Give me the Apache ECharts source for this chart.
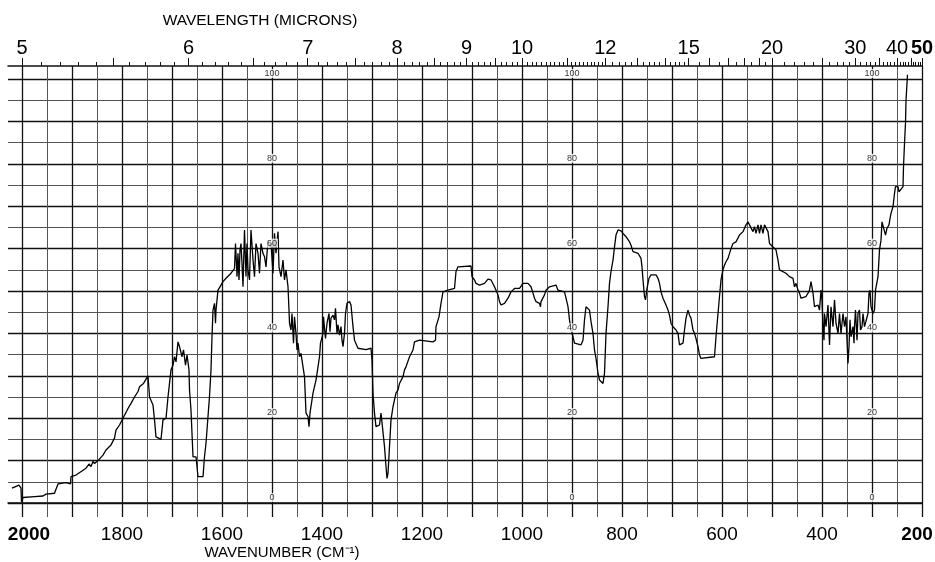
<!DOCTYPE html>
<html>
<head>
<meta charset="utf-8">
<script src="https://cdn.jsdelivr.net/npm/echarts@6/dist/echarts.min.js"></script>
<style>
  html, body { margin: 0; padding: 0; background: #fff; }
  #chart { width: 935px; height: 562px; }
</style>
</head>
<body>
<div id="chart"></div>
<script>
// spectrum (wavenumber in cm-1, % transmittance)
const wavenumber = [
  2020, 2006, 2002, 2001, 1998, 1975, 1958, 1952, 1935, 1928, 1912, 1903, 1902, 1892, 1872, 1866, 1862, 1858, 1855, 1848,
  1838, 1832, 1822, 1815, 1812, 1805, 1798, 1788, 1782, 1775, 1768, 1765, 1757, 1753, 1748, 1745,
  1738, 1735, 1732, 1722, 1718, 1712, 1708, 1705, 1702, 1698, 1695, 1692, 1688, 1685, 1682, 1680, 1677, 1673, 1670, 1666,
  1665, 1662, 1658, 1652, 1648, 1638, 1635, 1632, 1628, 1625, 1622, 1620, 1618, 1615, 1613, 1612, 1608, 1605, 1602, 1598,
  1592, 1582, 1575, 1573, 1570, 1568, 1566, 1564, 1562, 1560, 1558, 1555, 1552, 1550, 1548, 1545, 1542, 1538, 1535, 1532,
  1528, 1525, 1522, 1518, 1515, 1512, 1508, 1505, 1502, 1498, 1495, 1492, 1488, 1486, 1482, 1478, 1475, 1472, 1468, 1466,
  1465, 1462, 1460, 1457, 1455, 1452, 1450, 1448, 1445, 1442, 1438, 1435,
  1432, 1428, 1426, 1424, 1418, 1415, 1412, 1408, 1405, 1403, 1398, 1397, 1393, 1390, 1386, 1384, 1382, 1378, 1375, 1373,
  1370, 1368, 1365, 1362, 1360, 1358, 1355, 1353, 1350, 1345, 1342, 1338, 1335, 1328, 1325, 1312, 1302, 1300, 1298, 1295,
  1292, 1285, 1282, 1278, 1275, 1272, 1270, 1268, 1265, 1262, 1258, 1255, 1252, 1248, 1245, 1238, 1235, 1232, 1225, 1218,
  1215, 1205, 1178, 1173, 1172, 1166,
  1162, 1158, 1148, 1135, 1132, 1128, 1102, 1100, 1095, 1092, 1085, 1075, 1068, 1062, 1055, 1048, 1045, 1042, 1035, 1028,
  1022, 1015, 1005, 998, 988, 982, 978, 975, 972, 968, 965, 963, 962, 955, 952, 945, 932, 928, 915, 912,
  908, 905, 902, 898, 895, 892, 882, 878, 875, 872, 868, 865, 862, 858, 855, 852, 848, 845,
  842, 838, 835, 832, 828, 825, 822, 818, 815, 812, 808, 805, 802, 798, 792, 785, 782, 778, 775, 768,
  765, 762, 760, 758, 755, 753, 750, 746, 742, 732, 728, 725, 722, 718, 712, 708, 705, 702, 698, 695,
  692, 688, 685, 682, 678, 675, 672, 668, 665, 662, 658, 655, 652, 648, 645, 642, 638, 615, 612, 608,
  605, 602, 598, 595, 592, 588, 582, 578, 572, 565, 558, 552, 548, 545, 542, 538, 535, 532, 528, 525,
  522, 518, 515, 512, 508,
  505, 502, 498, 492, 488, 485, 482, 472, 465, 458, 455, 452, 448, 445, 442, 438, 432, 428, 425, 422,
  418, 415, 412, 408, 405, 402, 400, 398, 396, 395, 392, 388, 385, 382, 378, 375, 372, 368, 365, 362,
  358, 355, 352, 348, 346, 345, 344, 342, 338, 336, 335, 333, 330, 328, 325, 323, 320, 318, 315, 308,
  306, 304, 302, 298, 295, 293, 292, 288, 285, 282, 280, 277, 273, 270, 266, 264, 262, 258, 255, 253,
  248, 246, 242, 238, 237, 235, 233, 232, 230, 229
];
const transmittance = [
  3.5, 4.2, 3.5, 0.3, 1.3, 1.5, 1.65, 2.1, 2.3, 4.5, 4.8, 4.5, 6.2, 6.6, 8.2, 9.2, 8.6, 9.8, 9.3, 10,
  11.3, 12.5, 13.7, 15.3, 17.2, 18.4, 20, 22.3, 23.5, 25, 26.3, 27.4, 28.2, 27.8, 30, 25,
  23.1, 19.6, 15.6, 15, 19.6, 20, 25, 28.2, 31.4, 32.5, 34.5, 33.3, 38, 36.9, 36.5, 34.5, 36.1, 32.5, 34.9, 31.4,
  26.7, 21.9, 10.9, 10.9, 6.2, 6.2, 10.9, 14.1, 20.4, 25.1, 31.4, 39.2, 45.5, 47.1, 42.4, 45.5, 50.2, 50.6, 51.4, 52.2,
  53, 54.2, 55.3, 61.2, 53.4, 58.9, 52.6, 59.7, 61.2, 56.5, 51, 64.4, 53.4, 61.2, 55, 52.6, 64.4, 57.3, 53.4, 61.2,
  58.9, 54.2, 61.2, 58.9, 58.1, 55.7, 62, 60.4, 61.2, 54.2, 63.6, 58.9, 64, 55.7, 53.4, 57.3, 52.6, 55, 51, 45.5,
  42.4, 40.8, 44.7, 37.7, 43.9, 40, 36.1, 37.7, 34.5, 35.3, 32.1, 29.8,
  21.2, 20.4, 18, 21.2, 25.9, 26.3, 29, 32.1, 34.5, 37.7, 40, 43.9, 38.8, 42.4, 44.7, 40.4, 43.6, 44.3, 43.2, 45.9,
  40, 42, 39.6, 41.6, 38.4, 36.9, 40, 44.7, 47.1, 47.5, 46.7, 41.6, 38.4, 36.5, 36.1, 36.2, 36.5, 33.7, 25.9, 21.2,
  18, 18.4, 21.2, 20.8, 13.3, 8.6, 5.8, 7, 13.3, 19.6, 22.7, 24.3, 25.9, 26.7, 28.2, 29.8, 31.4, 32.1, 34.5, 36.1,
  38, 38.4, 38, 38.4, 41.6, 43.9,
  47.1, 49.8, 50.2, 50.6, 54.6, 55.7, 55.9, 53.4, 52.6, 51.8, 51.4, 51.8, 52.8, 52.6, 51, 49.1, 47.5, 46.7, 47.1, 48.3,
  49.8, 50.6, 50.6, 51.8, 51.8, 51, 49.5, 48.3, 47.5, 47.9, 47.1, 46.3, 47.5, 49.1, 50.2, 51, 51.4, 50.2, 49.8, 48.3,
  46.3, 43.2, 40.8, 39.2, 37.7, 37.3, 37.3, 38.4, 43.2, 46.3, 46.7, 45.5, 42.8, 40, 36.1, 34.1, 30.6, 29,
  28.6, 28.2, 30.6, 40, 46.3, 51.8, 54.6, 57.3, 60.4, 63.2, 64.4, 64.6, 64.2, 63.6, 62.8, 61.6, 60.8, 59.3, 59.7, 58.9,
  58.9, 57.7, 55.7, 52.6, 48.7, 47.9, 50.6, 53, 53.8, 53.8, 53, 51.8, 49.8, 48.3, 46.7, 45.5, 44.3, 42.4, 41.6, 41.6,
  40.8, 40, 37.3, 36.9, 37.7, 40.8, 43.6, 45.5, 44.3, 43.6, 40.8, 40, 38.8, 36.9, 34.9, 34.1, 34.5, 34.5, 39.2, 44.7,
  48.7, 52.6, 55, 56.1, 56.9, 57.7, 60, 61.2, 61.6, 63.2, 64, 65.6, 66.3, 65.6, 65.2, 64, 65.2, 63.6, 65.6, 63.6,
  65.6, 63.6, 65.6, 65.6, 64,
  61.2, 61.6, 60.4, 59.7, 57.3, 55, 54.6, 54.2, 53.4, 53, 51, 51.8, 50.2, 49.5, 48.3, 48.7, 48.7, 49.5, 50.2, 52.2,
  49.5, 46.3, 45.9, 46.7, 45.5, 50.2, 47.9, 41.6, 38.4, 44.7, 41.6, 46.7, 37.3, 46.3, 41.6, 47.9, 42.4, 40, 44.7, 40,
  44.7, 41.6, 43.9, 32.9, 36.9, 40, 43.2, 39.2, 41.6, 37.7, 41.6, 45.5, 38.4, 44.7, 45.5, 40.8, 41.6, 44.7, 41.6, 44.7,
  49.5, 50.2, 46.3, 44.7, 45.5, 50.2, 50.6, 53.4, 59.7, 62, 66.3, 66, 63.2, 64.8, 65.6, 67.1, 68.3, 69.9, 73, 74.6,
  74.6, 73.4, 73, 74.6, 79.3, 84.8, 89.6, 95, 99, 101
];

// axis labels
const wavenumberLabels = [2000, 1800, 1600, 1400, 1200, 1000, 800, 600, 400, 200];
const micronLabels = [5, 6, 7, 8, 9, 10, 12, 15, 20, 30, 40, 50];
const percentLabels = [0, 20, 40, 60, 80, 100];
const percentColumns = [1500, 900, 300];

// wavelength ticks along the top edge
const micronMajorTicks = [5, 5.5, 6, 6.5, 7, 7.5, 8, 8.5, 9, 9.5, 10, 11, 12, 13, 14, 15, 16, 17, 18, 19, 20, 25, 30, 35, 40, 45, 50];
const micronMinorTicks = [];
for (let m = 50; m < 120; m++) micronMinorTicks.push(m / 10);
for (let m = 60; m < 75; m++) micronMinorTicks.push(m / 5);
for (let m = 30; m < 40; m++) micronMinorTicks.push(m / 2);
for (let m = 20; m <= 50; m++) micronMinorTicks.push(m);

const WN_MIN = 200, WN_MAX = 2028;
const FONT = "'Liberation Sans Narrow', 'Liberation Sans', sans-serif";

const chart = echarts.init(document.getElementById('chart'));

const wnAxis = (extra) => Object.assign({
  type: 'value', min: WN_MIN, max: WN_MAX, inverse: true,
  axisLine: { show: false }, axisTick: { show: false }, axisLabel: { show: false }, splitLine: { show: false }
}, extra);

chart.setOption({
  animation: false,
  backgroundColor: '#fff',
  title: [
    { text: 'WAVELENGTH (MICRONS)', left: 255, top: 8, textAlign: 'center',
      textStyle: { fontFamily: FONT, fontSize: 15.5, fontWeight: 'normal', color: '#000' } },
    { text: 'WAVENUMBER (CM\u207B\u00B9)', left: 277, top: 540, textAlign: 'center',
      textStyle: { fontFamily: FONT, fontSize: 15, fontWeight: 'normal', color: '#000' } }
  ],
  grid: [
    { left: 8, right: 13, top: 66, bottom: 45, containLabel: false, outerBoundsMode: 'none' },
    { left: 8, right: 13, top: 79, bottom: 59, containLabel: false, outerBoundsMode: 'none' }
  ],
  xAxis: [
    wnAxis({
      gridIndex: 0, position: 'bottom', interval: 50,
      axisLine: { show: true, lineStyle: { color: '#111', width: 1.5 } },
      axisLabel: {
        show: true, customValues: wavenumberLabels, margin: 8, color: '#000',
        fontFamily: FONT, fontSize: 19, hideOverlap: false,
        formatter: v => v === 2000 ? '{first|2000}' : v === 200 ? '{last|200}' : String(v),
        rich: {
          first: { fontFamily: FONT, fontSize: 19, fontWeight: 'bold', color: '#000', padding: [0, 0, 0, 14] },
          last: { fontFamily: FONT, fontSize: 19, fontWeight: 'bold', color: '#000', padding: [0, 10, 0, 0] }
        }
      },
      splitLine: { show: true, showMaxLine: false, lineStyle: { color: '#555', width: 1 } }
    }),
    wnAxis({
      gridIndex: 0, position: 'bottom', interval: 100,
      splitLine: { show: true, showMaxLine: false, lineStyle: { color: '#111', width: 1.3 } }
    }),
    wnAxis({
      gridIndex: 0, position: 'top',
      axisLine: { show: true, lineStyle: { color: '#111', width: 1.5 } },
      axisTick: { show: true, customValues: micronMajorTicks.map(m => 10000 / m), length: 8,
        lineStyle: { color: '#111', width: 1 } },
      axisLabel: {
        show: true, customValues: micronLabels.map(m => 10000 / m), margin: 8, color: '#000',
        fontFamily: FONT, fontSize: 20, hideOverlap: false,
        formatter: v => { const m = Math.round(10000 / v); return m === 50 ? '{b|50}' : String(m); },
        rich: { b: { fontFamily: FONT, fontSize: 20, fontWeight: 'bold', color: '#000' } }
      }
    }),
    wnAxis({
      gridIndex: 0, position: 'top',
      axisTick: { show: true, customValues: micronMinorTicks.map(m => 10000 / m), length: 4,
        lineStyle: { color: '#111', width: 1 } }
    }),
    wnAxis({ gridIndex: 1, show: false })
  ],
  yAxis: [
    { type: 'value', gridIndex: 0, min: -3.3, max: 103.07, show: false },
    { type: 'value', gridIndex: 1, min: 0, max: 100, interval: 5,
      axisLine: { show: false }, axisTick: { show: false }, axisLabel: { show: false },
      splitLine: { show: true, lineStyle: { color: '#555', width: 1 } } },
    { type: 'value', gridIndex: 1, min: 0, max: 100, interval: 10,
      axisLine: { show: false }, axisTick: { show: false }, axisLabel: { show: false },
      splitLine: { show: true, lineStyle: { color: '#111', width: 1.3 } } }
  ],
  series: [
    {
      type: 'line', xAxisIndex: 0, yAxisIndex: 0,
      data: wavenumber.map((w, i) => [w, transmittance[i]]),
      symbol: 'none', lineStyle: { color: '#000', width: 1.3 }, z: 3
    },
    {
      type: 'scatter', xAxisIndex: 4, yAxisIndex: 1, silent: true, symbolSize: 0, z: 4,
      data: percentColumns.flatMap(c => percentLabels.map(p => [c, p])),
      label: {
        show: true, position: 'top', distance: 1, formatter: p => String(p.value[1]),
        fontFamily: FONT, fontSize: 9, color: '#000', backgroundColor: '#fff', padding: [0, 1]
      }
    }
  ]
});
</script>
</body>
</html>
